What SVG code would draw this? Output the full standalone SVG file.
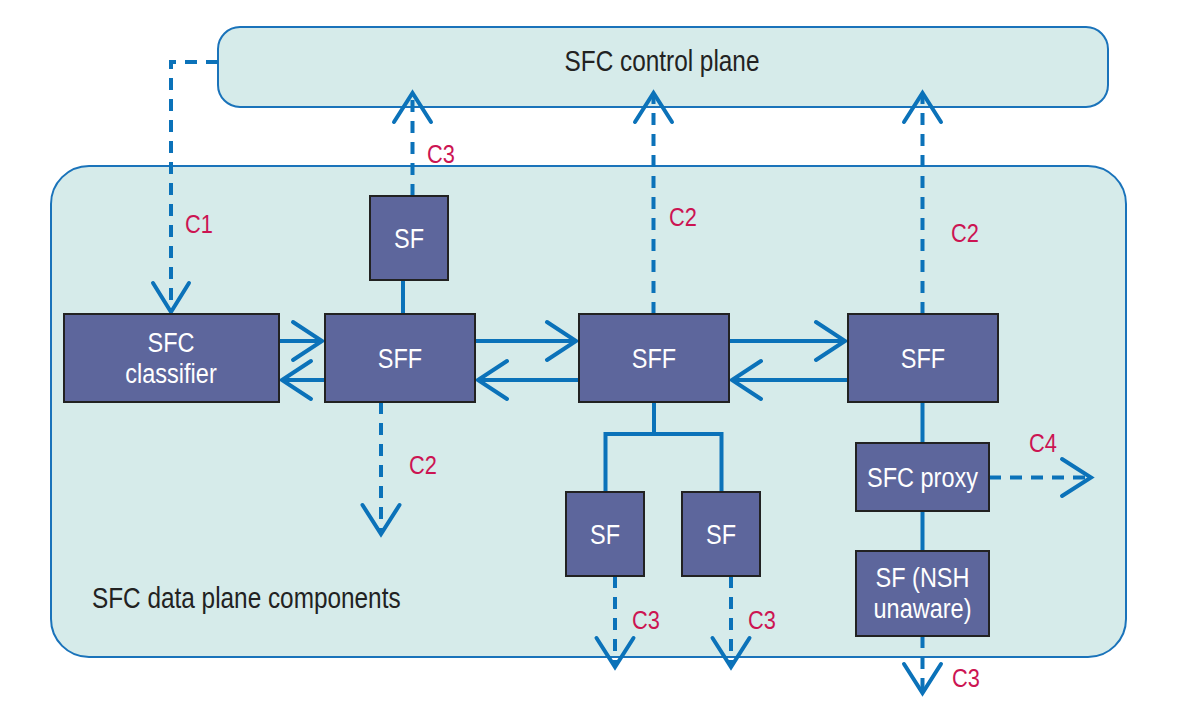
<svg xmlns="http://www.w3.org/2000/svg" width="1178" height="714" viewBox="0 0 1178 714">
<style>
.plane{fill:#d6ebea;stroke:#1a73ba;stroke-width:2}
.node{fill:#5d669c;stroke:#222;stroke-width:2}
.nt{fill:#fff;font-family:"Liberation Sans",Arial,sans-serif;font-size:28px;text-anchor:middle}
.pt{fill:#222;font-family:"Liberation Sans",Arial,sans-serif;font-size:29px}
.lb{fill:#cc1452;font-family:"Liberation Sans",Arial,sans-serif;font-size:26px}
.ln{fill:none;stroke:#0b72b9;stroke-width:4}
.ds{fill:none;stroke:#0b72b9;stroke-width:4;stroke-dasharray:12 9}
.ah{fill:none;stroke:#0b72b9;stroke-width:4;stroke-linecap:round;stroke-linejoin:miter}
</style>
<rect width="1178" height="714" fill="#fff"/>
<g id="control-plane">
<rect class="plane" x="218" y="27" width="890" height="80" rx="22"/>
<text class="pt" transform="translate(662 71) scale(0.84 1)" text-anchor="middle">SFC control plane</text>
</g>
<g id="data-plane">
<rect class="plane" x="51" y="166" width="1075" height="491" rx="38"/>
<text class="pt" transform="translate(92 608) scale(0.84 1)">SFC data plane components</text>
</g>
<g id="connectors">
<path class="ln" d="M279 341H322M325 380H283"/>
<path class="ln" d="M475 341H576M579 380H478"/>
<path class="ln" d="M729 341H845M848 380H732"/>
<path class="ln" d="M403 280V314"/>
<path class="ln" d="M654 402V434M605.5 492V434H721.5V492"/>
<path class="ln" d="M922.5 402V443M922.5 511V551"/>
<path class="ds" d="M218 62H171V311"/>
<path class="ds" d="M412.5 196V96"/>
<path class="ds" d="M653.5 314V96"/>
<path class="ds" d="M922.5 314V96"/>
<path class="ds" d="M381 402V531"/>
<path class="ds" d="M615 576V664"/>
<path class="ds" d="M731 576V664"/>
<path class="ds" d="M922.5 636V691"/>
<path class="ds" d="M989 477.5H1088"/>
<path class="ah" d="M293 322L322 341L293 360M311 361L282 380L311 399"/>
<path class="ah" d="M547 322L576 341L547 360M507 361L478 380L507 399"/>
<path class="ah" d="M816 322L845 341L816 360M761 361L732 380L761 399"/>
<path class="ah" d="M153 283L171 312L189 283"/>
<path class="ah" d="M394 122L412.5 93L431 122"/>
<path class="ah" d="M635 122L653.5 93L672 122"/>
<path class="ah" d="M904 122L922.5 93L941 122"/>
<path class="ah" d="M362.5 505L381 534L399.5 505"/>
<path class="ah" d="M596.5 638L615 667L633.5 638"/>
<path class="ah" d="M712.5 638L731 667L749.5 638"/>
<path class="ah" d="M904 664L922.5 693L941 664"/>
<path class="ah" d="M1062 459L1091 477.5L1062 496"/>
</g>
<g id="labels">
<text class="lb" transform="translate(185 233) scale(0.84 1)">C1</text>
<text class="lb" transform="translate(427 163) scale(0.84 1)">C3</text>
<text class="lb" transform="translate(669 226) scale(0.84 1)">C2</text>
<text class="lb" transform="translate(951 242) scale(0.84 1)">C2</text>
<text class="lb" transform="translate(409 474) scale(0.84 1)">C2</text>
<text class="lb" transform="translate(632 629) scale(0.84 1)">C3</text>
<text class="lb" transform="translate(748 629) scale(0.84 1)">C3</text>
<text class="lb" transform="translate(1029 452) scale(0.84 1)">C4</text>
<text class="lb" transform="translate(952 687) scale(0.84 1)">C3</text>
</g>
<g id="sfc-classifier">
<rect class="node" x="64" y="314" width="215" height="88"/>
<text class="nt" transform="translate(171 352) scale(0.84 1)">SFC</text>
<text class="nt" transform="translate(171 383) scale(0.84 1)">classifier</text>
</g>
<g id="sff1">
<rect class="node" x="325" y="314" width="150" height="88"/>
<text class="nt" transform="translate(400 368) scale(0.84 1)">SFF</text>
</g>
<g id="sf-top">
<rect class="node" x="370" y="196" width="78" height="84"/>
<text class="nt" transform="translate(409 248) scale(0.84 1)">SF</text>
</g>
<g id="sff2">
<rect class="node" x="579" y="314" width="150" height="88"/>
<text class="nt" transform="translate(654 368) scale(0.84 1)">SFF</text>
</g>
<g id="sff3">
<rect class="node" x="848" y="314" width="150" height="88"/>
<text class="nt" transform="translate(923 368) scale(0.84 1)">SFF</text>
</g>
<g id="sf-bottom-1">
<rect class="node" x="566" y="492" width="78" height="84"/>
<text class="nt" transform="translate(605 544) scale(0.84 1)">SF</text>
</g>
<g id="sf-bottom-2">
<rect class="node" x="682" y="492" width="78" height="84"/>
<text class="nt" transform="translate(721 544) scale(0.84 1)">SF</text>
</g>
<g id="sfc-proxy">
<rect class="node" x="856" y="443" width="133" height="68"/>
<text class="nt" transform="translate(922.5 487) scale(0.84 1)">SFC proxy</text>
</g>
<g id="sf-nsh-unaware">
<rect class="node" x="856" y="551" width="133" height="85"/>
<text class="nt" transform="translate(922.5 587) scale(0.84 1)">SF (NSH</text>
<text class="nt" transform="translate(922.5 618) scale(0.84 1)">unaware)</text>
</g>
</svg>
